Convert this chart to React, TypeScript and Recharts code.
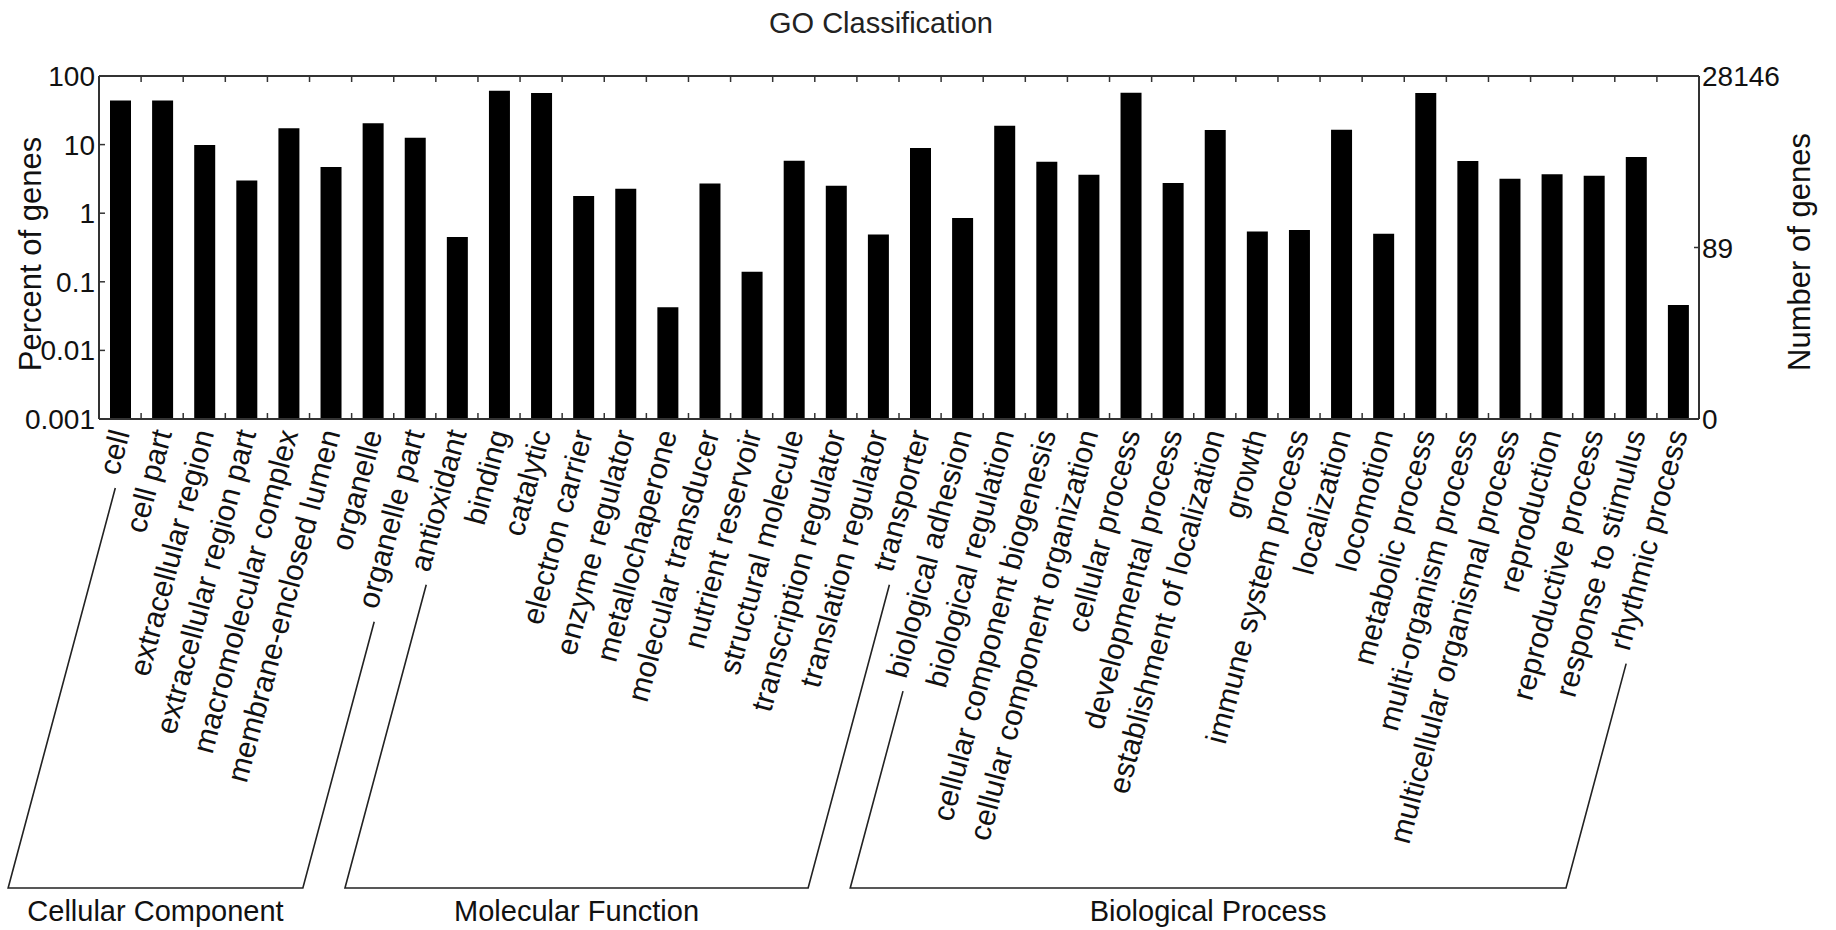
import { BarChart, Bar, XAxis, YAxis, ReferenceLine } from "recharts";

// GO terms, in plotting order
const categories = [
  "cell",
  "cell part",
  "extracellular region",
  "extracellular region part",
  "macromolecular complex",
  "membrane-enclosed lumen",
  "organelle",
  "organelle part",
  "antioxidant",
  "binding",
  "catalytic",
  "electron carrier",
  "enzyme regulator",
  "metallochaperone",
  "molecular transducer",
  "nutrient reservoir",
  "structural molecule",
  "transcription regulator",
  "translation regulator",
  "transporter",
  "biological adhesion",
  "biological regulation",
  "cellular component biogenesis",
  "cellular component organization",
  "cellular process",
  "developmental process",
  "establishment of localization",
  "growth",
  "immune system process",
  "localization",
  "locomotion",
  "metabolic process",
  "multi-organism process",
  "multicellular organismal process",
  "reproduction",
  "reproductive process",
  "response to stimulus",
  "rhythmic process",
];

const percentOfGenes = [
  44.0, 43.8, 9.9, 3.0, 17.3, 4.7, 20.4, 12.6,
  0.45, 61, 56.5, 1.78, 2.27, 0.0425, 2.72, 0.14, 5.83, 2.52, 0.49, 8.9,
  0.85, 18.9, 5.6, 3.64, 57, 2.75, 16.3, 0.54, 0.57, 16.5, 0.5, 56.5,
  5.77, 3.18, 3.69, 3.52, 6.6, 0.046,
];

const groupNames = ["Cellular Component", "Molecular Function", "Biological Process"];
const groupSizes = [8, 12, 18];

const leftTicks = [0.001, 0.01, 0.1, 1, 10, 100];
const leftTickLabels = ["0.001", "0.01", "0.1", "1", "10", "100"];

const totalGenes = 28146;
const rightTickCounts = [0, 89, 28146];

// layout
const W = 1836;
const H = 930;
const PLOT_LEFT = 99;
const PLOT_RIGHT = 1699;
const PLOT_TOP = 76;
const PLOT_BOTTOM = 419;
const BAND = (PLOT_RIGHT - PLOT_LEFT) / categories.length;
const FONT = '"Liberation Sans", Arial, Helvetica, sans-serif';
const AXIS = "#333";
const LABEL_FS = 30;
const ANGLE = 75;
const LABEL_DX = 10;
const LABEL_Y = 433;
const BRACKET_Y = 888;
const GAP = 12;

const data = categories.map((name, i) => ({ name, percent: percentOfGenes[i] }));

const rightTicks = rightTickCounts.map((c) => (c === 0 ? 0.001 : (c / totalGenes) * 100));

// first / last index of every group
const groups: { name: string; first: number; last: number }[] = [];
{
  let start = 0;
  groupSizes.forEach((n, g) => {
    groups.push({ name: groupNames[g], first: start, last: start + n - 1 });
    start += n;
  });
}

let ctx: CanvasRenderingContext2D | null = null;
function textWidth(s: string, fs: number) {
  if (!ctx && typeof document !== "undefined") {
    ctx = document.createElement("canvas").getContext("2d");
  }
  if (!ctx) return s.length * fs * 0.5;
  ctx.font = `${fs}px "Liberation Sans", Arial, sans-serif`;
  return ctx.measureText(s).width;
}

const ux = -Math.cos((ANGLE * Math.PI) / 180);
const uy = Math.sin((ANGLE * Math.PI) / 180);

function XTick(props: any) {
  const { x, payload } = props;
  const i: number = payload?.index ?? props.index;
  const label: string = payload.value;
  const ax = x + LABEL_DX;
  const ay = LABEL_Y;
  const dBottom = (BRACKET_Y - ay) / uy;

  const parts: any[] = [];
  const g = groups.find((gr) => gr.first === i);
  if (g) {
    const lastLabel = categories[g.last];
    const lastAx = ax + (g.last - g.first) * BAND;
    const d1 = textWidth(label, LABEL_FS) + GAP;
    const d2 = textWidth(lastLabel, LABEL_FS) + GAP;
    const x0 = ax + ux * d1;
    const y0 = ay + uy * d1;
    const x1 = ax + ux * dBottom;
    const x2 = lastAx + ux * dBottom;
    const x3 = lastAx + ux * d2;
    const y3 = ay + uy * d2;
    parts.push(
      <polyline
        key="br"
        points={`${x0},${y0} ${x1},${BRACKET_Y} ${x2},${BRACKET_Y} ${x3},${y3}`}
        fill="none"
        stroke="#222"
        strokeWidth={1.6}
      />
    );
    parts.push(
      <text
        key="gl"
        x={(x1 + x2) / 2}
        y={921}
        textAnchor="middle"
        fontSize={29}
        fontFamily={FONT}
        fill="#111"
      >
        {g.name}
      </text>
    );
  }

  return (
    <g>
      {i > 0 && (
        <>
          <line x1={x - BAND / 2} x2={x - BAND / 2} y1={PLOT_BOTTOM} y2={PLOT_BOTTOM - 6} stroke={AXIS} strokeWidth={1.5} />
          <line x1={x - BAND / 2} x2={x - BAND / 2} y1={PLOT_TOP} y2={PLOT_TOP + 6} stroke={AXIS} strokeWidth={1.5} />
        </>
      )}
      <text
        x={ax}
        y={ay}
        textAnchor="end"
        transform={`rotate(${-ANGLE} ${ax} ${ay})`}
        fontSize={LABEL_FS}
        fontFamily={FONT}
        fill="#111"
      >
        {label}
      </text>
      {parts}
    </g>
  );
}

function LeftTick(props: any) {
  const { y, payload } = props;
  const k = leftTicks.findIndex((t) => Math.abs(Math.log10(t) - Math.log10(payload.value)) < 1e-6);
  return (
    <g>
      <line x1={PLOT_LEFT} x2={PLOT_LEFT + 6} y1={y} y2={y} stroke={AXIS} strokeWidth={1.5} />
      <text x={PLOT_LEFT - 4} y={y} dy="0.36em" textAnchor="end" fontSize={28} fontFamily={FONT} fill="#111">
        {k >= 0 ? leftTickLabels[k] : ""}
      </text>
    </g>
  );
}

function RightTick(props: any) {
  const { y, payload } = props;
  const k = rightTicks.findIndex((t) => Math.abs(Math.log10(t) - Math.log10(payload.value)) < 1e-6);
  return (
    <g>
      <line x1={PLOT_RIGHT} x2={PLOT_RIGHT - 5} y1={y} y2={y} stroke={AXIS} strokeWidth={1.5} />
      <text x={PLOT_RIGHT + 3} y={y} dy="0.36em" textAnchor="start" fontSize={28} fontFamily={FONT} fill="#111">
        {k >= 0 ? String(rightTickCounts[k]) : ""}
      </text>
    </g>
  );
}

export default function App() {
  return (
    <div style={{ position: "absolute", left: 0, top: 0, width: W, height: H, background: "#fff" }}>
      <BarChart
        width={W}
        height={H}
        data={data}
        margin={{ top: PLOT_TOP, right: 0, bottom: 0, left: 0 }}
        barCategoryGap={0}
      >
        <XAxis
          dataKey="name"
          interval={0}
          height={H - PLOT_BOTTOM}
          tickLine={false}
          axisLine={{ stroke: AXIS, strokeWidth: 2 }}
          tick={<XTick />}
        />
        <YAxis
          yAxisId="left"
          scale="log"
          domain={[0.001, 100]}
          allowDataOverflow
          ticks={leftTicks}
          width={PLOT_LEFT}
          tickLine={false}
          axisLine={{ stroke: AXIS, strokeWidth: 2 }}
          tick={<LeftTick />}
        />
        <YAxis
          yAxisId="right"
          orientation="right"
          scale="log"
          domain={[0.001, 100]}
          allowDataOverflow
          ticks={rightTicks}
          width={W - PLOT_RIGHT}
          tickLine={false}
          axisLine={{ stroke: AXIS, strokeWidth: 2 }}
          tick={<RightTick />}
        />
        <ReferenceLine yAxisId="left" y={100} stroke={AXIS} strokeWidth={2} />
        <Bar dataKey="percent" yAxisId="left" fill="#000" barSize={21} isAnimationActive={false} />
      </BarChart>
      <svg
        width={W}
        height={H}
        style={{ position: "absolute", left: 0, top: 0, pointerEvents: "none" }}
      >
        <text x={881} y={33} textAnchor="middle" fontSize={29} fontFamily={FONT} fill="#222">
          GO Classification
        </text>
        <text
          x={41}
          y={254}
          textAnchor="middle"
          fontSize={31}
          fontFamily={FONT}
          fill="#111"
          transform="rotate(-90 41 254)"
        >
          Percent of genes
        </text>
        <text
          x={1810}
          y={252}
          textAnchor="middle"
          fontSize={31}
          fontFamily={FONT}
          fill="#111"
          transform="rotate(-90 1810 252)"
        >
          Number of genes
        </text>
      </svg>
    </div>
  );
}
